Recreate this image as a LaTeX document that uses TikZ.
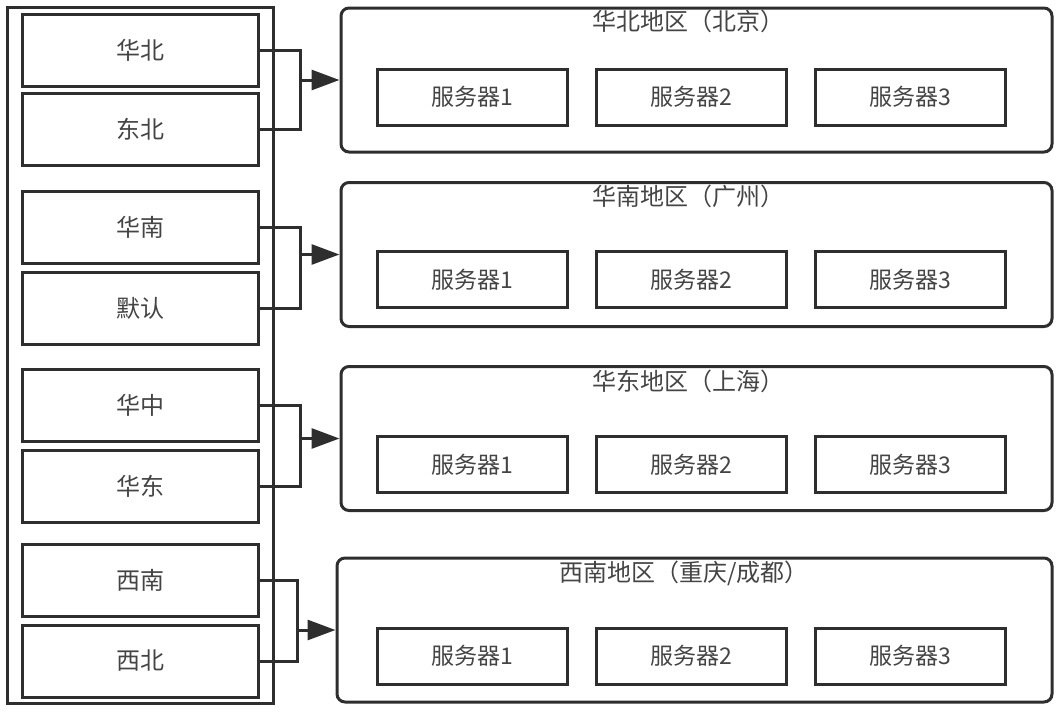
\documentclass[tikz,border=0pt]{standalone}
\usepackage{fontspec}
\setmainfont{Noto Sans CJK SC}
\usetikzlibrary{arrows.meta}
\definecolor{ln}{HTML}{2E2E2E}
\definecolor{tx}{HTML}{444444}
\tikzset{
  lbox/.style={draw=ln,line width=3pt,minimum width=236pt,minimum height=72pt,inner sep=0pt,text=tx,font=\fontsize{24}{28}\selectfont},
  sbox/.style={draw=ln,line width=3pt,minimum width=190pt,minimum height=56pt,inner sep=0pt,text=tx,font=\fontsize{23}{26}\selectfont},
  rbox/.style={draw=ln,line width=3pt,rounded corners=8pt,minimum height=144pt,inner sep=0pt},
  ttl/.style={text=tx,font=\fontsize{24}{28}\selectfont,inner sep=0pt},
  conn/.style={draw=ln,line width=3pt},
  arr/.style={draw=ln,line width=3pt,-{Triangle[length=28pt,width=20pt]}}
}
\begin{document}
\begin{tikzpicture}[x=1pt,y=-1pt]
\useasboundingbox (0,0) rectangle (1058,713);
\node[draw=ln,line width=3pt,minimum width=266pt,minimum height=696pt,inner sep=0pt] (outer) at (140,355) {};
\node[lbox] (a1) at (140,50) {华北};
\node[lbox] (a2) at (140,129.5) {东北};
\node[lbox] (b1) at (140,227.5) {华南};
\node[lbox] (b2) at (140,308) {默认};
\node[lbox] (c1) at (140,405) {华中};
\node[lbox] (c2) at (140,486) {华东};
\node[lbox] (d1) at (140,580) {西南};
\node[lbox] (d2) at (140,661) {西北};
% regions
\node[rbox,minimum width=711pt] (r1) at (696.5,80) {};
\node[rbox,minimum width=711pt] (r2) at (696.5,254.5) {};
\node[rbox,minimum width=711pt] (r3) at (696.5,438.5) {};
\node[rbox,minimum width=715pt] (r4) at (694.5,630) {};
\node[ttl] (t1) at (688,21) {华北地区（北京）};
\node[ttl] (t2) at (688,196) {华南地区（广州）};
\node[ttl] (t3) at (688,381) {华东地区（上海）};
\node[ttl] (t4) at (684,573) {西南地区（重庆/成都）};
\foreach \r/\y in {1/97,2/279.5,3/464.5,4/656}{
  \node[sbox] (s\r a) at (472,\y) {服务器1};
  \node[sbox] (s\r b) at (691,\y) {服务器2};
  \node[sbox] (s\r c) at (910.5,\y) {服务器3};
}
% connectors
\coordinate (j1) at (300,80);
\coordinate (j2) at (300,254.5);
\coordinate (j3) at (300,438.5);
\coordinate (j4) at (297,630);
\draw[conn] (a1.east) -| (j1) |- (a2.east);
\draw[conn] (b1.east) -| (j2) |- (b2.east);
\draw[conn] (c1.east) -| (j3) |- (c2.east);
\draw[conn] (d1.east) -| (j4) |- (d2.east);
\draw[arr] (j1) -- (r1.west);
\draw[arr] (j2) -- (r2.west);
\draw[arr] (j3) -- (r3.west);
\draw[arr] (j4) -- (r4.west);
\end{tikzpicture}
\end{document}
